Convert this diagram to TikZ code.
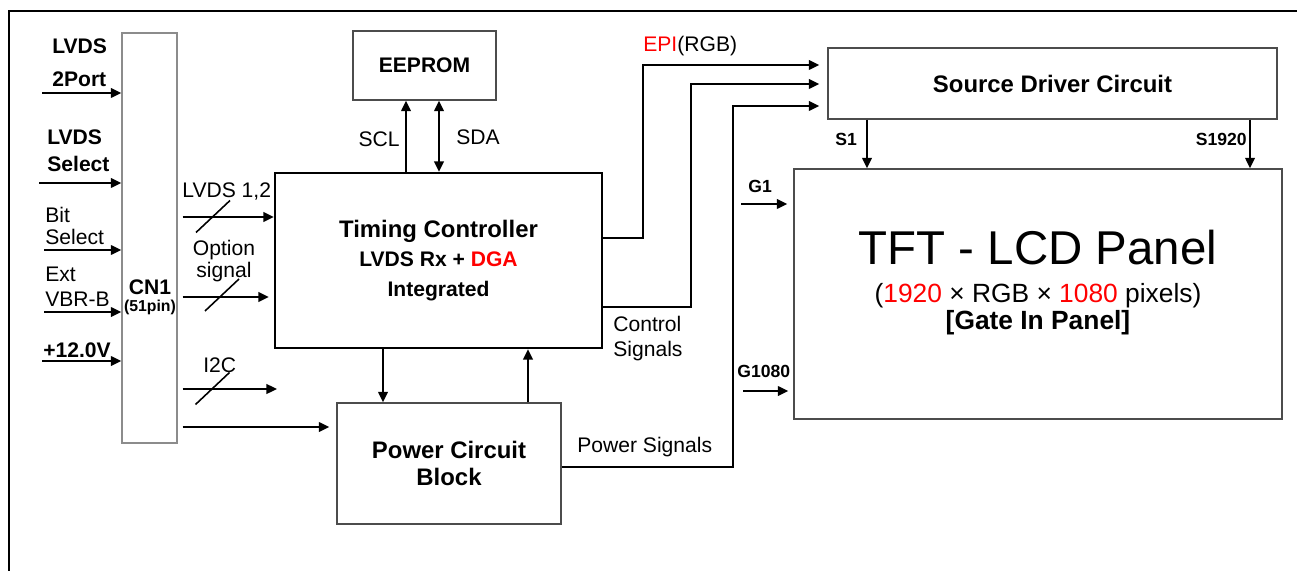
\documentclass[tikz,border=0pt]{standalone}
\usepackage{fontspec}
\setmainfont{Liberation Sans}
\usepackage{xcolor}
\usetikzlibrary{arrows.meta,positioning,calc}

\begin{document}
\begin{tikzpicture}[
  x=0.2mm, y=-0.2mm,
  >={Triangle[length=6pt,width=5.5pt]},
  sig/.style={->, line width=1.1pt},
  slash/.style={line width=0.9pt},
  box/.style={rectangle, draw=black!70, line width=0.8pt, inner sep=0pt,
              align=center, font=\bfseries\fontsize{12}{14}\selectfont},
  lbl/.style={inner sep=0pt, align=left, font=\fontsize{12}{14}\selectfont},
  blbl/.style={lbl, font=\bfseries\fontsize{12}{14}\selectfont},
  pinlbl/.style={inner sep=0pt, font=\bfseries\fontsize{10}{12}\selectfont}
]
  \useasboundingbox (0,0) rectangle (1297,571);
  % frame
  \draw[line width=1.6pt] (1297,11) -- (9,11) -- (9,571);

  % blocks
  \node[box, draw=black!45, minimum width=11mm, minimum height=82mm] (cn1) at (149.5,238) {};
  \node[box, draw=black, line width=1.3pt, minimum width=65.4mm, minimum height=35mm,
        font=\bfseries\fontsize{12}{16.8}\selectfont] (tc) at (438.5,260.5)
        {{\fontsize{13.6}{16.8}\selectfont Timing Controller}\\LVDS Rx + \textcolor{red}{DGA}\\Integrated};
  \node[box, minimum width=28.6mm, minimum height=13.8mm] (eeprom) at (424.5,65.5) {EEPROM};
  \node[box, minimum width=44.8mm, minimum height=24.2mm,
        font=\bfseries\fontsize{13.6}{15.4}\selectfont] (power) at (449,463.5) {Power Circuit\\Block};
  \node[box, minimum width=89.8mm, minimum height=14.2mm,
        font=\bfseries\fontsize{13.6}{16}\selectfont] (source) at (1052.5,83.5) {Source Driver Circuit};
  \node[box, minimum width=97.6mm, minimum height=50mm] (panel) at (1038,294) {};

  % panel text
  \node[inner sep=0pt, anchor=base, font=\fontsize{27}{30}\selectfont] (tftname) at (1038,264) {TFT - LCD Panel};
  \node[inner sep=0pt, anchor=base, font=\fontsize{15}{18}\selectfont] (tftres) at (1038,302)
        {(\textcolor{red}{1920} × RGB × \textcolor{red}{1080} pixels)};
  \node[inner sep=0pt, anchor=base, font=\bfseries\fontsize{15}{18}\selectfont] (tftgip) at (1038,329) {[Gate In Panel]};

  % connector name
  \node[inner sep=0pt, anchor=base, align=center, font=\bfseries\fontsize{12}{9.7}\selectfont] (cn1name) at (150,312)
        {CN1\\{\fontsize{9}{9.7}\selectfont(51pin)}};

  % inputs to CN1
  \coordinate (in1) at (42,93);
  \coordinate (in2) at (39,183);
  \coordinate (in3) at (44,250);
  \coordinate (in4) at (44,312);
  \coordinate (in5) at (42,361);
  \foreach \c in {in1,in2,in3,in4,in5}
    \draw[sig] (\c) -- (\c -| cn1.west);
  \node[blbl, anchor=base west] (lvdsport) at (52,87) {LVDS\\[4.8pt]2Port};
  \node[blbl, anchor=base west] (lvdssel) at (47,171) {LVDS\\[0.8pt]Select};
  \node[lbl, anchor=base west] (bitsel) at (45,245) {Bit\\[-1pt]Select};
  \node[lbl, anchor=base west] (extvbr) at (45,306) {Ext\\VBR-B};
  \node[blbl, anchor=base west] (vcc) at (43,357) {+12.0V};

  % CN1 outputs
  \coordinate (lvdsbus) at (0,217);
  \coordinate (optbus) at (0,297);
  \coordinate (i2cbus) at (277,389);
  \coordinate (pwrbus) at (0,427);
  \draw[sig, shorten <=1mm] (cn1.east |- lvdsbus) -- (tc.west |- lvdsbus);
  \draw[sig, shorten <=1mm, shorten >=1mm] (cn1.east |- optbus) -- (tc.west |- optbus);
  \draw[sig, shorten <=1mm] (cn1.east |- i2cbus) -- (i2cbus);
  \draw[sig, shorten <=1mm, shorten >=1.4mm] (cn1.east |- pwrbus) -- (power.west |- pwrbus);
  \foreach \x/\y in {213/216.5, 222/295, 212.5/388.5}
    \draw[slash] (\x-17,\y+16) -- (\x+17,\y-16);
  \node[lbl, anchor=base west] (lvds12) at (182,197) {LVDS 1,2};
  \node[lbl, anchor=base, align=center, font=\fontsize{12}{12.5}\selectfont] (optsig) at (224,277) {Option\\signal};
  \node[lbl, anchor=base west] (i2c) at (203,372) {I2C};

  % EEPROM bus
  \draw[sig] ([xshift=-6.5mm]tc.north) -- ([xshift=-6.5mm]tc.north |- eeprom.south);
  \draw[sig, <->] ([xshift=0.1mm]tc.north) -- ([xshift=0.1mm]tc.north |- eeprom.south);
  \node[lbl, anchor=base east] (scl) at (400,147) {SCL};
  \node[lbl, anchor=base west] (sda) at (456,145) {SDA};

  % timing controller <-> power
  \draw[sig] ([xshift=-11.1mm]tc.south) -- ([xshift=-11.1mm]tc.south |- power.north);
  \draw[sig] ([xshift=15.8mm]power.north) -- ([xshift=15.8mm]power.north |- tc.south);

  % to source driver
  \coordinate (epi) at (643,65);
  \coordinate (ctl) at (691,84);
  \coordinate (pws) at (733,106);
  \draw[sig, shorten >=1.6mm] ([yshift=4.5mm]tc.east) -| (epi) -- (epi -| source.west);
  \draw[sig, shorten >=1.6mm] ([yshift=-9.3mm]tc.east) -| (ctl) -- (ctl -| source.west);
  \draw[sig, shorten >=1.6mm] ([yshift=-0.7mm]power.east) -| (pws) -- (pws -| source.west);
  \node[lbl, anchor=base west] (epilbl) at (643,52) {\textcolor{red}{EPI}(RGB)};
  \node[lbl, anchor=base west, font=\fontsize{12}{13.7}\selectfont] (ctllbl) at (613,356) {Control\\Signals};
  \node[lbl, anchor=base west] (pwslbl) at (577,452) {Power Signals};

  % source lines
  \draw[sig] ([xshift=-37.1mm]source.south) -- ([xshift=-37.1mm]source.south |- panel.north);
  \draw[sig] ([xshift=39.5mm]source.south) -- ([xshift=39.5mm]source.south |- panel.north);
  \node[pinlbl, anchor=base west] (s1) at (835,146) {S1};
  \node[pinlbl, anchor=base east] (s1920) at (1247,146) {S1920};

  % gate lines
  \coordinate (g1) at (741,204);
  \coordinate (g1080) at (743,391);
  \draw[sig, shorten >=1.2mm] (g1) -- (g1 -| panel.west);
  \draw[sig, shorten >=1mm] (g1080) -- (g1080 -| panel.west);
  \node[pinlbl, anchor=base west] (g1lbl) at (748,193) {G1};
  \node[pinlbl, anchor=base west] (g1080lbl) at (737,377) {G1080};
\end{tikzpicture}
\end{document}
